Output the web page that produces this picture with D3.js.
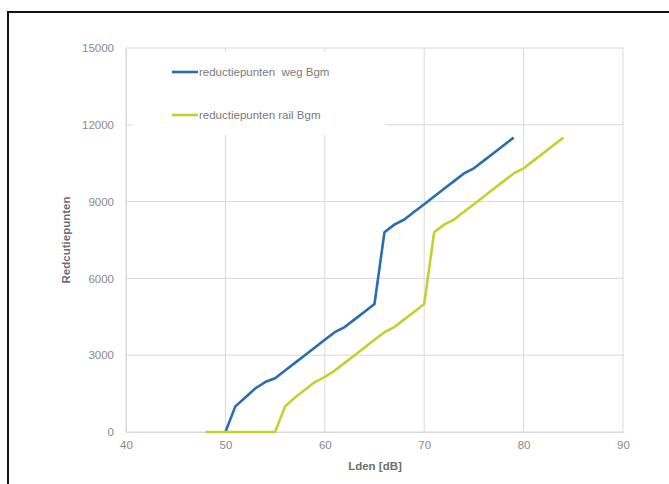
<!DOCTYPE html>
<html><head><meta charset="utf-8">
<script src="https://cdn.jsdelivr.net/npm/d3@7"></script>
<style>body{margin:0;background:#fff}svg{display:block}</style>
</head><body>
<script>
const xTicks = [40, 50, 60, 70, 80, 90];
const yTicks = [0, 3000, 6000, 9000, 12000, 15000];
const wegX = [50,51,52,53,54,55,56,57,58,59,60,61,62,63,64,65,66,67,68,69,70,71,72,73,74,75,76,77,78,79];
const wegY = [0,1000,1350,1700,1950,2100,2400,2700,3000,3300,3600,3900,4100,4400,4700,5000,7800,8100,8300,8600,8900,9200,9500,9800,10100,10300,10600,10900,11200,11500];
const railX = [48,49,50,51,52,53,54,55,56,57,58,59,60,61,62,63,64,65,66,67,68,69,70,71,72,73,74,75,76,77,78,79,80,81,82,83,84];
const railY = [0,0,0,0,0,0,0,0,1000,1350,1650,1950,2150,2400,2700,3000,3300,3600,3900,4100,4400,4700,5000,7800,8100,8300,8600,8900,9200,9500,9800,10100,10300,10600,10900,11200,11500];
const seriesNames = ["reductiepunten  weg Bgm", "reductiepunten rail Bgm"];
const colors = ["#2a6db0", "#c3d12c"];

const W = 669, H = 484;
const svg = d3.select("body").append("svg").attr("width", W).attr("height", H);
svg.append("rect").attr("x", 8).attr("y", 12).attr("width", W + 10).attr("height", H + 10)
  .attr("fill", "#fff").attr("stroke", "#111").attr("stroke-width", 2);

const x = d3.scaleLinear().domain([40, 90]).range([126, 623]);
const y = d3.scaleLinear().domain([0, 15000]).range([432, 48]);
const grid = "#d9d9d9";
const font = "Liberation Sans, Arial, sans-serif";

// gridlines
svg.append("g").selectAll("line").data(yTicks).join("line")
  .attr("x1", x(40)).attr("x2", x(90)).attr("y1", d => y(d)).attr("y2", d => y(d))
  .attr("stroke", grid).attr("stroke-width", 1);
svg.append("g").selectAll("line").data(xTicks).join("line")
  .attr("y1", y(0)).attr("y2", y(15000)).attr("x1", d => x(d)).attr("x2", d => x(d))
  .attr("stroke", grid).attr("stroke-width", 1);

// axes
const xAxis = svg.append("g").attr("transform", `translate(0,${y(0)})`)
  .call(d3.axisBottom(x).tickValues(xTicks).tickSize(0).tickPadding(9));
const yAxis = svg.append("g").attr("transform", `translate(${x(40)},0)`)
  .call(d3.axisLeft(y).tickValues(yTicks).tickSize(0).tickPadding(12).tickFormat(d3.format("d")));
[xAxis, yAxis].forEach(a => {
  a.select(".domain").attr("stroke", grid);
  a.selectAll("text").attr("fill", "#8a8a8a").attr("font-size", 11.5).attr("font-family", font);
});

// legend background
svg.append("rect").attr("x", 133).attr("y", 52).attr("width", 252).attr("height", 83).attr("fill", "#fff");

// lines
const line = d3.line().x(d => x(d[0])).y(d => y(d[1]));
const wegData = wegX.map((v, i) => [v, wegY[i]]);
const railData = railX.map((v, i) => [v, railY[i]]);
svg.append("path").datum(wegData).attr("d", line).attr("fill", "none")
  .attr("stroke", colors[0]).attr("stroke-width", 2.6).attr("stroke-linejoin", "round");
svg.append("path").datum(railData).attr("d", line).attr("fill", "none")
  .attr("stroke", colors[1]).attr("stroke-width", 2.6).attr("stroke-linejoin", "round");

// legend
const legY = [72, 115];
seriesNames.forEach((n, i) => {
  svg.append("line").attr("x1", 172).attr("x2", 198).attr("y1", legY[i]).attr("y2", legY[i])
    .attr("stroke", colors[i]).attr("stroke-width", 2.6);
  svg.append("text").attr("x", 199).attr("y", legY[i] + 4).text(n)
    .attr("fill", "#7a7a7a").attr("font-size", 11.5).attr("font-family", font).attr("xml:space", "preserve")
    .style("white-space", "pre");
});

// axis titles
svg.append("text").attr("x", 375).attr("y", 470).attr("text-anchor", "middle")
  .attr("font-weight", "bold").attr("font-size", 11.5).attr("fill", "#6e6e6e").attr("font-family", font)
  .text("Lden [dB]");
svg.append("text").attr("transform", "translate(70,240) rotate(-90)").attr("text-anchor", "middle")
  .attr("font-weight", "bold").attr("font-size", 11.5).attr("fill", "#6e6e6e").attr("font-family", font)
  .text("Redcutiepunten");
</script>
</body></html>
